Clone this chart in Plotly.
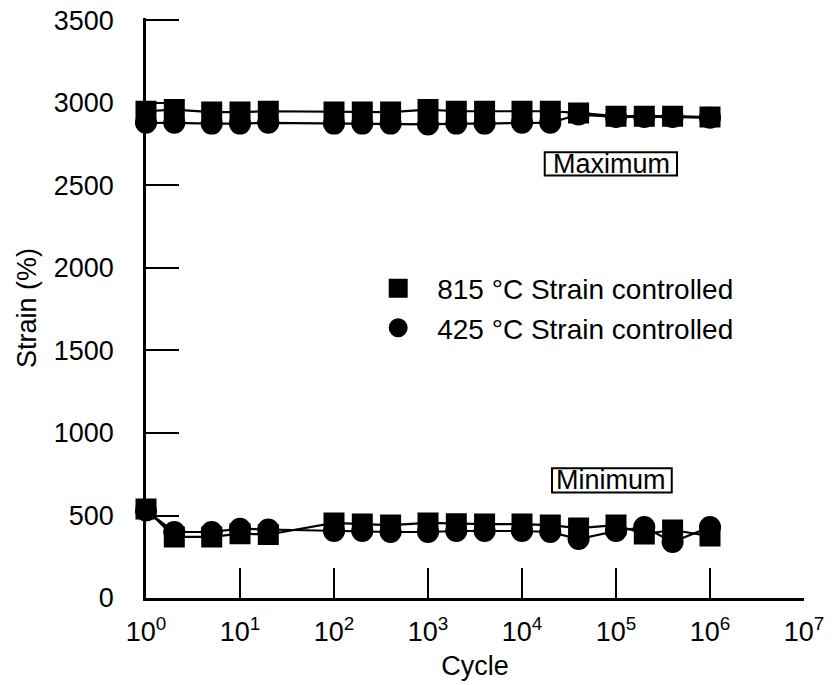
import plotly.graph_objects as go

# Cycles at which data were recorded
cycles = [1, 2, 5, 10, 20, 100, 200, 400, 1000, 2000, 4000,
          1e4, 2e4, 4e4, 1e5, 2e5, 4e5, 1e6]

# 815 °C strain controlled (squares)
max_815 = [2950, 2960, 2945, 2945, 2950, 2945, 2945, 2945, 2960, 2950, 2950,
           2950, 2950, 2940, 2920, 2920, 2920, 2915]
min_815 = [540, 370, 370, 390, 385, 455, 448, 442, 455, 450, 448,
           448, 442, 424, 442, 388, 412, 375]

# 425 °C strain controlled (circles)
max_425 = [2880, 2880, 2875, 2875, 2880, 2875, 2875, 2875, 2870, 2875, 2875,
           2880, 2880, 2930, 2915, 2915, 2915, 2910]
min_425 = [530, 400, 400, 420, 415, 406, 406, 400, 400, 406, 406,
           406, 400, 357, 406, 430, 339, 430]

x_ticks = [1, 10, 100, 1e3, 1e4, 1e5, 1e6, 1e7]
x_ticktext = ["10<sup>0</sup>", "10<sup>1</sup>", "10<sup>2</sup>", "10<sup>3</sup>",
              "10<sup>4</sup>", "10<sup>5</sup>", "10<sup>6</sup>", "10<sup>7</sup>"]
y_ticks = [0, 500, 1000, 1500, 2000, 2500, 3000, 3500]

FONT = "Liberation Sans, Arial, Helvetica, sans-serif"
BLACK = "black"

fig = go.Figure()

# connecting lines (no legend)
for ys in (max_425, min_425, max_815, min_815):
    fig.add_trace(go.Scatter(x=cycles, y=ys, mode="lines",
                             line=dict(color=BLACK, width=2.2),
                             showlegend=False, hoverinfo="skip",
                             cliponaxis=False))

# markers
fig.add_trace(go.Scatter(x=cycles + [None] + cycles, y=max_425 + [None] + min_425,
                         mode="markers", name="425 °C Strain controlled",
                         marker=dict(symbol="circle", size=19, color=BLACK,
                                     line=dict(color=BLACK, width=3)),
                         cliponaxis=False))
fig.add_trace(go.Scatter(x=cycles + [None] + cycles, y=max_815 + [None] + min_815,
                         mode="markers", name="815 °C Strain controlled",
                         marker=dict(symbol="square", size=18, color=BLACK,
                                     line=dict(color=BLACK, width=3)),
                         cliponaxis=False))

# boxed labels (positions in data units on y)
fig.add_annotation(x=0.707, y=2632, xref="paper", yref="y",
                   xanchor="center", yanchor="middle",
                   text="Maximum", showarrow=False,
                   font=dict(family=FONT, size=27, color=BLACK))
fig.add_shape(type="rect", xref="paper", yref="y",
              x0=0.606, x1=0.807, y0=2560, y1=2702,
              line=dict(color=BLACK, width=2), fillcolor="rgba(0,0,0,0)")
fig.add_annotation(x=0.707, y=715, xref="paper", yref="y",
                   xanchor="center", yanchor="middle",
                   text="Minimum", showarrow=False,
                   font=dict(family=FONT, size=27, color=BLACK))
fig.add_shape(type="rect", xref="paper", yref="y",
              x0=0.617, x1=0.799, y0=640, y1=787,
              line=dict(color=BLACK, width=2), fillcolor="rgba(0,0,0,0)")

# the page places the figure 8 px in from the top-left corner
fig.update_layout(
    width=824, height=677,
    margin=dict(l=138, r=28, t=10, b=87),
    paper_bgcolor="white", plot_bgcolor="white",
    font=dict(family=FONT, size=27, color=BLACK),
    legend=dict(x=0.324, y=0.5765, xanchor="left", yanchor="top",
                traceorder="reversed", itemwidth=68,
                font=dict(family=FONT, size=28, color=BLACK),
                bgcolor="rgba(0,0,0,0)", tracegroupgap=0),
    showlegend=True,
)

fig.update_xaxes(type="log", range=[0, 7], automargin=False,
                 tickvals=x_ticks, ticktext=x_ticktext,
                 ticks="inside", ticklen=30, tickwidth=2, tickcolor=BLACK,
                 showline=True, linewidth=2.5, linecolor=BLACK,
                 showgrid=False, zeroline=False, mirror=False,
                 ticklabelstandoff=8, ticklabeloverflow="allow",
                 tickfont=dict(family=FONT, size=27, color=BLACK),
                 title=dict(text="Cycle", standoff=10,
                            font=dict(family=FONT, size=27, color=BLACK)))
fig.update_yaxes(range=[0, 3515], tickvals=y_ticks, automargin=False,
                 ticks="inside", ticklen=33, tickwidth=2, tickcolor=BLACK,
                 showline=True, linewidth=2.5, linecolor=BLACK,
                 showgrid=False, zeroline=False, mirror=False,
                 ticklabelstandoff=24, ticklabeloverflow="allow",
                 tickfont=dict(family=FONT, size=27, color=BLACK),
                 title=dict(text="Strain (%)", standoff=10,
                            font=dict(family=FONT, size=27, color=BLACK)))

fig.write_html("out.html")
